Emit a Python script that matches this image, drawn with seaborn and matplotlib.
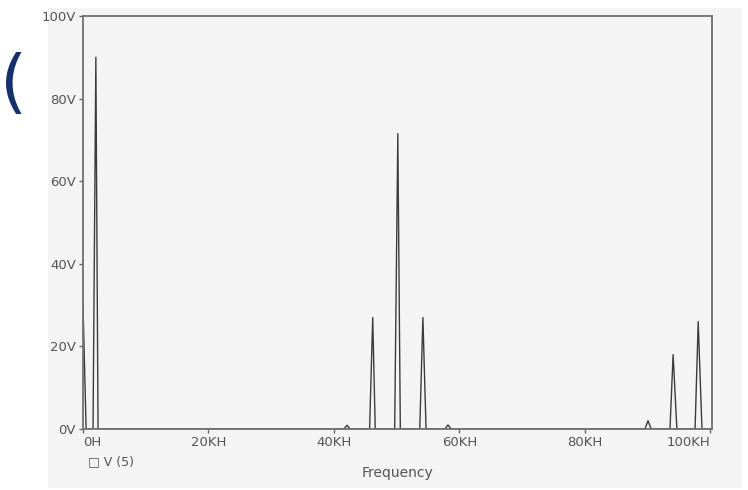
import matplotlib
matplotlib.use("Agg")
import matplotlib.pyplot as plt
import seaborn as sns
import pandas as pd
from matplotlib.patches import Rectangle

# Spectrum vertices (frequency in kHz, amplitude in V)
freq_khz = [0.0, 0.5, 1.6, 2.05, 2.4,
            41.6, 42.1, 42.6,
            45.7, 46.2, 46.6,
            49.7, 50.2, 50.6,
            53.7, 54.2, 54.7,
            57.7, 58.2, 58.7,
            89.6, 90.1, 90.6,
            93.6, 94.1, 94.7,
            97.6, 98.1, 98.7, 100.3]
volts = [30.0, 0.0, 0.0, 90.0, 0.0,
         0.0, 0.9, 0.0,
         0.0, 27.0, 0.0,
         0.0, 71.5, 0.0,
         0.0, 27.0, 0.0,
         0.0, 1.0, 0.0,
         0.0, 2.0, 0.0,
         0.0, 18.0, 0.0,
         0.0, 26.0, 0.0, 0.0]

y_ticks = [0, 20, 40, 60, 80, 100]
y_labels = ["0V", "20V", "40V", "60V", "80V", "100V"]
x_ticks = [0, 20, 40, 60, 80, 100]
x_labels = ["0H", "20KH", "40KH", "60KH", "80KH", "100KH"]
x_title = "Frequency"
legend_text = "V (5)"

df = pd.DataFrame({"freq": freq_khz, "volts": volts})

sns.set_theme(style="white")
plt.rcParams["font.family"] = ["DejaVu Sans"]

bg = "#f4f4f4"
fig = plt.figure(figsize=(7.48, 4.90), dpi=100, facecolor="white")
fig.patches.append(Rectangle((48 / 748, 2 / 490), (742 - 48) / 748, (482 - 2) / 490,
                             transform=fig.transFigure, facecolor=bg,
                             edgecolor="none", zorder=-10))
ax = fig.add_axes([83 / 748, 1 - 429 / 490, (712 - 83) / 748, (429 - 16) / 490])
ax.set_facecolor(bg)

sns.lineplot(data=df, x="freq", y="volts", ax=ax, color="#3c3c3c",
             linewidth=1.0, estimator=None, sort=False)

ax.set_xlim(0, 100.3)
ax.set_ylim(0, 100)
ax.set_xticks(x_ticks)
ax.set_yticks(y_ticks)
ax.set_yticklabels(y_labels)
ax.set_xticklabels(x_labels)
lab = ax.get_xticklabels()
lab[0].set_ha("left")
lab[-1].set_ha("right")
ax.set_xlabel(x_title, fontsize=10, color="#555555", labelpad=12)
ax.set_ylabel("")

ax.tick_params(axis="both", which="major", direction="out", length=3,
               width=1, colors="#666666", labelsize=9.5, labelcolor="#555555",
               left=True, bottom=True, pad=2)
for s in ax.spines.values():
    s.set_visible(True)
    s.set_color("#707070")
    s.set_linewidth(1.3)

fig.text(88 / 748, 1 - 462 / 490, "\u25a1 " + legend_text, fontsize=9,
         color="#555555", va="center", ha="left")

fig.text(0.5 / 748, 1 - 86 / 490, "(", fontsize=50, color="#15306e",
         va="center", ha="left")

fig.savefig("out.png", dpi=100, facecolor="white")
